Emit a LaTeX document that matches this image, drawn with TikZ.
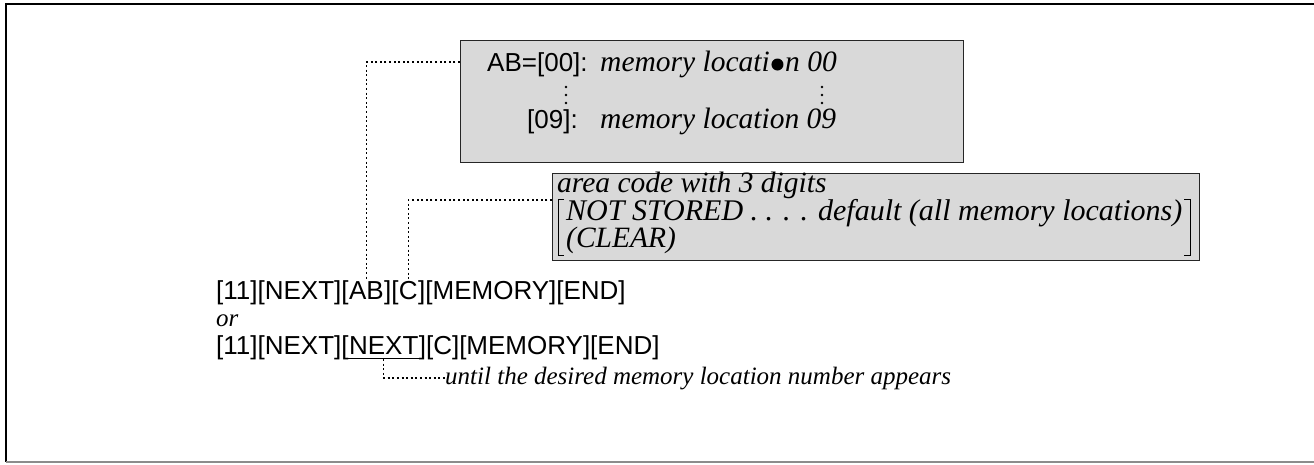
\documentclass[tikz,border=0pt]{standalone}
\usepackage{fontspec}
\setmainfont{Liberation Serif}
\setsansfont{Liberation Sans}
\usetikzlibrary{calc}
\definecolor{boxfill}{gray}{0.85}
\tikzset{
  key/.style={font=\sffamily\fontsize{26}{30}\selectfont, inner sep=0pt, anchor=base west},
  note/.style={font=\itshape\fontsize{29.5}{32}\selectfont, inner sep=0pt, anchor=base west},
  smallnote/.style={font=\itshape\fontsize{25}{28}\selectfont, inner sep=0pt, anchor=base west},
  panel/.style={draw=black!85, line width=1.4pt, fill=boxfill, inner sep=0pt, anchor=north west},
  lead/.style={line width=1.1pt, dash pattern=on 2pt off 2.6pt},
}
\begin{document}
\begin{tikzpicture}[x=1pt,y=-1pt]
\useasboundingbox (0,0) rectangle (1314,464);
% frame
\draw[line width=1.5pt] (1314,4) -- (6,4) -- (6,462);
\draw[line width=2pt, black!45] (6,462) -- (1314,462);

% box 1
\node[panel, minimum width=503pt, minimum height=122pt] (box1) at (460,40) {};
\node[key] (ab0) at (487,71) {AB=[00]:};
\node[note] (m0) at (600,71) {memory locati};
\node[circle, fill=black, inner sep=0pt, minimum size=12pt] (blob) at ($(m0.base east)+(7.5,-6.5)$) {};
\node[note] (m0b) at ($(m0.base east)+(15,0)$) {n 00};
\foreach \yy in {87,95,103} {
  \fill (566,\yy) circle (1.3);
  \fill (822,\yy) circle (1.3);
}
\node[key] (b9) at (527,128) {[09]:};
\node[note] (m9) at (600,128) {memory location 09};

% box 2
\node[panel, minimum width=647pt, minimum height=87pt] (box2) at (552,173) {};
\node[note] (ac) at (557,192) {area code with 3 digits};
\node[note, font=\itshape\fontsize{30}{32}\selectfont] (ns) at (566,220) {NOT STORED . . . . default (all memory locations)};
\node[note] (cl) at (566,247) {(CLEAR)};
\draw[line width=1pt] (564,199) -- (558,199) -- (558,255) -- (564,255);
\draw[line width=1pt] (1184,199) -- (1190,199) -- (1190,255) -- (1184,255);

% key sequence line 1
\node[key] (l1a) at (216,299) {[11][NEXT][};
\node[key] (l1ab) at (l1a.base east) {AB};
\node[key] (l1b) at (l1ab.base east) {][};
\node[key] (l1c) at (l1b.base east) {C};
\node[key] (l1d) at (l1c.base east) {][MEMORY][END]};

\node[smallnote] (or) at (216,326) {or};

% key sequence line 2
\node[key] (l2a) at (216,354) {[11][NEXT][};
\node[key] (l2nx) at (l2a.base east) {NEXT};
\node[key] (l2b) at (l2nx.base east) {][C][MEMORY][END]};
\draw[line width=0.8pt] ($(l2nx.base west)+(-2,4)$) -- ($(l2nx.base east)+(2,4)$);

\node[smallnote] (until) at (445,384) {until the desired memory location number appears};

% leaders
\draw[lead] (box1.west |- 0,62) -| (l1ab.north);
\draw[lead] (box2.west |- 0,200) -| (l1c.north);
\coordinate (nxb) at ($(l2nx.base)+(0,5)$);
\draw[lead] (nxb) |- (until.west);
\end{tikzpicture}
\end{document}
